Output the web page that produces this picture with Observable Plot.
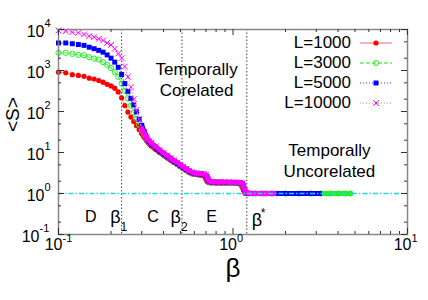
<!DOCTYPE html>
<html>
<head>
<meta charset="utf-8">
<script src="https://cdn.jsdelivr.net/npm/d3@7"></script>
<script src="https://cdn.jsdelivr.net/npm/@observablehq/plot@0.6"></script>
<style>
html,body{margin:0;padding:0;background:#fff;}
#chart{position:relative;width:428px;height:300px;font-family:"Liberation Sans",Arial,Helvetica,sans-serif;color:#000;}
#chart > svg{display:block}
.legend{position:absolute;left:240px;top:33px;font-size:17px;}
.legend .row{display:flex;align-items:center;height:20px;}
.legend .lab{width:111px;text-align:right;white-space:nowrap;}
.legend svg{margin-left:9px;display:block;}
</style>
</head>
<body>
<div id="chart"></div>
<script>
// ---- data ----
const betaCommon = [0.10,0.11,0.12,0.13,0.14,0.15,0.16,0.17,0.18,0.19,0.20,0.21,0.22,0.23,0.24,0.25,0.26,0.27,0.28,0.29,0.30,0.31,0.32,0.33,
  0.34,0.36,0.38,0.40,0.42,0.44,0.46,0.48,0.50,0.52,0.54,0.56,0.58,0.60,0.62,0.64,0.66,0.68,0.70,0.71,0.72,0.73,0.75,0.80,0.85,0.90,0.95,1.00,1.05,1.10,1.13,1.15,1.17,1.19,1.22];
const s1000 = [910,880,790,760,720,650,620,570,520,460,420,370,300,215,140,97,73,57,45,36,29,23.5,19.5,16.5,
  14.5,12,10,8.6,7.4,6.5,5.7,5.1,4.5,4.0,3.65,3.3,3.05,2.95,2.9,2.85,2.8,2.7,2.3,2.0,1.9,1.85,1.82,1.8,1.8,1.78,1.78,1.78,1.76,1.72,1.45,1.2,1.05,1.0,1.0];
const s3000 = [2700,2700,2550,2400,2350,2100,1950,1850,1600,1380,1150,910,700,480,320,210,140,95,66,47,36,28,22,18,
  16,13,10.8,9.2,7.9,6.9,6.0,5.3,4.7,4.2,3.8,3.45,3.2,3.05,3.0,2.95,2.95,2.9,2.7,2.4,2.1,1.95,1.9,1.86,1.85,1.84,1.83,1.83,1.82,1.8,1.7,1.45,1.15,1.02,1.0];
const s5000 = [4700,4700,4500,4300,4100,3700,3400,3100,2800,2400,2000,1600,1200,800,480,310,210,145,98,65,46,32,23.5,18.5,
  16.2,13.1,10.9,9.3,8.0,7.0,6.1,5.4,4.8,4.3,3.85,3.5,3.25,3.1,3.02,2.98,2.97,2.92,2.75,2.45,2.15,1.97,1.92,1.88,1.87,1.86,1.85,1.85,1.84,1.82,1.74,1.5,1.18,1.03,1.0];
const s10000 = [9500,9100,8600,8300,7600,6900,6500,5900,5400,4700,4200,3400,2600,2000,1250,700,390,200,110,65,38,29,23.5,19.5,
  17.2,14,11.6,9.8,8.4,7.3,6.4,5.7,5.0,4.5,4.0,3.6,3.35,3.15,3.1,3.05,3.05,3.0,2.85,2.55,2.2,2.0,1.95,1.92,1.9,1.9,1.89,1.88,1.87,1.85,1.78,1.55,1.2,1.05,1.02];
const tailBeta1000 = [1.3,1.4,1.5];
const tailS1000 = [1,1,1];
const tailBeta3000 = [1.3,1.5,1.7,2.0,2.4,2.8,3.2,3.6,4.0,4.4,4.71];
const tailS3000 = [1,1,1,1,1,1,1,1,1,1,1];
const tailBeta5000 = [1.3,1.5,1.7,2.0,2.4,2.8,3.13];
const tailS5000 = [1,1,1,1,1,1,1];
const tailBeta10000 = [1.3,1.4,1.5,1.6,1.71];
const tailS10000 = [1,1,1,1,1];
const seriesLabels = ["L=1000","L=3000","L=5000","L=10000"];

const xTicks = [0.1, 1, 10];
const xTickExp = ["-1","0","1"];
const xMinor = [0.2,0.3,0.4,0.5,0.6,0.7,0.8,0.9,2,3,4,5,6,7,8,9];
const yTicks = [0.1, 1, 10, 100, 1000, 10000];
const yTickExp = ["-1","0","1","2","3","4"];
const yMinor = [0.2,0.5,2,5,20,50,200,500,2000,5000];

const criticalBeta = [0.23, 0.51, 1.2];
const criticalSub = ["1","2"];
const baseline = [1];
const regionText = ["D","C","E"];
const regionBeta = [0.153, 0.348, 0.753];
const regionS = 0.265;
const annotText = ["Temporally\nCorelated", "Temporally\nUncorelated"];
const annotBeta = [0.618, 3.57];
const annotS = [640, 6.6];

// ---- build ----
const series = [
  {beta: betaCommon.concat(tailBeta1000), s: s1000.concat(tailS1000)},
  {beta: betaCommon.concat(tailBeta3000), s: s3000.concat(tailS3000)},
  {beta: betaCommon.concat(tailBeta5000), s: s5000.concat(tailS5000)},
  {beta: betaCommon.concat(tailBeta10000), s: s10000.concat(tailS10000)}
];
const styles = [
  {color:"#ff0000", line:"#f49a9a", dash:null, symbol:"circle", fill:"#ff0000", stroke:"none", r:2.6},
  {color:"#22ee22", line:"#66ee66", dash:"4,2", symbol:"circle", fill:"none", stroke:"#22ee22", r:2.6},
  {color:"#0000ff", line:"#7777ff", dash:"1,2", symbol:"square", fill:"#0000ff", stroke:"none", r:2.8},
  {color:"#ff00ff", line:"#ff99ff", dash:"1,2", symbol:"times", fill:"none", stroke:"#ff00ff", r:2.7}
];

const FONT = '"Liberation Sans", Arial, Helvetica, sans-serif';
const marks = [];

// critical dotted lines
marks.push(Plot.ruleX(criticalBeta, {stroke:"#444", strokeWidth:1, strokeDasharray:"1.5,2"}));

// series
series.forEach((sr, k) => {
  const st = styles[k];
  const rows = sr.beta.map((b, i) => ({b, s: sr.s[i]}));
  marks.push(Plot.line(rows, {x:"b", y:"s", stroke: st.line, strokeWidth: 1.2, strokeDasharray: st.dash || undefined}));
  marks.push(Plot.line(rows.filter(d => d.b >= 0.3), {x:"b", y:"s", stroke: st.color, strokeWidth: 5, strokeLinejoin:"round"}));
  marks.push(Plot.dot(rows, {x:"b", y:"s", symbol: st.symbol, r: st.r, fill: st.fill, stroke: st.stroke, strokeWidth: 1}));
});

// cyan y=1 line
marks.push(Plot.ruleY(baseline, {stroke:"#22d8d8", strokeWidth:1.3, strokeDasharray:"5,2,1.5,2"}));

// frame and ticks (inward, all four sides)
marks.push(Plot.frame({stroke:"#888", strokeWidth:1.5}));
marks.push(Plot.ruleX(xTicks, {stroke:"#333", insetTop:199}));
marks.push(Plot.ruleX(xTicks, {stroke:"#333", insetBottom:199}));
marks.push(Plot.ruleX(xMinor, {stroke:"#333", insetTop:202}));
marks.push(Plot.ruleX(xMinor, {stroke:"#333", insetBottom:202}));
marks.push(Plot.ruleY(yTicks, {stroke:"#333", insetRight:343}));
marks.push(Plot.ruleY(yTicks, {stroke:"#333", insetLeft:343}));
marks.push(Plot.ruleY(yMinor, {stroke:"#333", insetRight:346}));
marks.push(Plot.ruleY(yMinor, {stroke:"#333", insetLeft:346}));

// tick labels
const xLab = xTicks.map((v, i) => ({v, e: xTickExp[i]}));
const yLab = yTicks.map((v, i) => ({v, e: yTickExp[i]}));
marks.push(Plot.text(xLab, {x:"v", frameAnchor:"bottom", text: () => "10", textAnchor:"end", dx:4, dy:15, fontSize:16}));
marks.push(Plot.text(xLab, {x:"v", frameAnchor:"bottom", text:"e", textAnchor:"start", dx:4, dy:7, fontSize:11}));
marks.push(Plot.text(yLab.filter(d => d.e.length === 1), {y:"v", frameAnchor:"left", text: () => "10", textAnchor:"end", dx:-14, dy:2, fontSize:16}));
marks.push(Plot.text(yLab.filter(d => d.e.length === 2), {y:"v", frameAnchor:"left", text: () => "10", textAnchor:"end", dx:-19, dy:2, fontSize:16}));
marks.push(Plot.text(yLab.filter(d => d.e.length === 1), {y:"v", frameAnchor:"left", text:"e", textAnchor:"start", dx:-14, dy:-6, fontSize:11}));
marks.push(Plot.text(yLab.filter(d => d.e.length === 2), {y:"v", frameAnchor:"left", text:"e", textAnchor:"start", dx:-19, dy:-6, fontSize:11}));

// axis titles
marks.push(Plot.text(["β"], {frameAnchor:"bottom", text: d => d, dy:42, fontSize:26}));
marks.push(Plot.text(["<S>"], {frameAnchor:"left", text: d => d, dx:-46, rotate:-90, fontSize:19}));

// annotations
marks.push(Plot.text(annotText, {x:(d,i) => annotBeta[i], y:(d,i) => annotS[i], text: d => d, fontSize:17, lineHeight:1.25}));
marks.push(Plot.text(regionText, {x:(d,i) => regionBeta[i], y:() => regionS, text: d => d, fontSize:16}));
const subLabels = criticalSub.map((t, i) => ({b: criticalBeta[i], t}));
marks.push(Plot.text(subLabels, {x:"b", y:() => regionS, text:() => "β", textAnchor:"end", dx:-1, fontSize:18}));
marks.push(Plot.text(subLabels, {x:"b", y:() => regionS, text:"t", textAnchor:"start", dx:-1, dy:10, fontSize:12}));
marks.push(Plot.text([criticalBeta[2]], {x: d => d, y:() => regionS, text:() => "β", textAnchor:"start", dx:5, dy:3, fontSize:18}));
marks.push(Plot.text([criticalBeta[2]], {x: d => d, y:() => regionS, text:() => "*", textAnchor:"start", dx:14, dy:-4, fontSize:12}));

const chart = Plot.plot({
  width: 428, height: 300,
  marginLeft: 58, marginRight: 21, marginTop: 29, marginBottom: 66,
  x: {type:"log", domain:[0.1, 10], axis:null},
  y: {type:"log", domain:[0.1, 10000], axis:null},
  style: {fontFamily: FONT, fontSize:"16px", background:"#fff", color:"#000", overflow:"visible"},
  marks
});
const host = document.getElementById("chart");
host.appendChild(chart);

// legend (HTML overlay inside the plot area)
const legend = document.createElement("div");
legend.className = "legend";
seriesLabels.forEach((lab, k) => {
  const st = styles[k];
  const row = document.createElement("div");
  row.className = "row";
  const span = document.createElement("span");
  span.className = "lab";
  span.textContent = lab;
  row.appendChild(span);
  const ns = "http://www.w3.org/2000/svg";
  const svg = document.createElementNS(ns, "svg");
  svg.setAttribute("width", 34); svg.setAttribute("height", 20);
  const line = document.createElementNS(ns, "line");
  line.setAttribute("x1", 0); line.setAttribute("x2", 32); line.setAttribute("y1", 10); line.setAttribute("y2", 10);
  line.setAttribute("stroke", st.line); line.setAttribute("stroke-width", 1.5);
  if (st.dash) line.setAttribute("stroke-dasharray", st.dash);
  svg.appendChild(line);
  const sym = d3.symbol().type({circle:d3.symbolCircle, square:d3.symbolSquare, times:d3.symbolTimes}[st.symbol]).size(Math.PI * st.r * st.r);
  const p = document.createElementNS(ns, "path");
  p.setAttribute("d", sym());
  p.setAttribute("transform", "translate(16,10)");
  p.setAttribute("fill", st.fill); p.setAttribute("stroke", st.stroke);
  svg.appendChild(p);
  row.appendChild(svg);
  legend.appendChild(row);
});
host.appendChild(legend);
</script>
</body>
</html>
